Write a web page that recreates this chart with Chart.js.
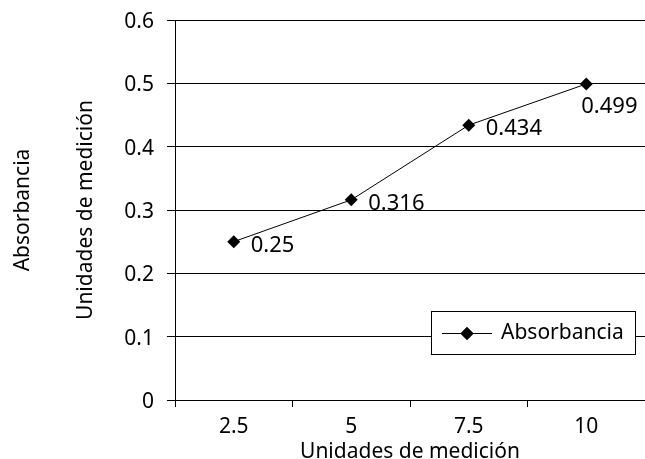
<!DOCTYPE html>
<html>
<head>
<meta charset="utf-8">
<script src="https://cdn.jsdelivr.net/npm/chart.js@4.4.0/dist/chart.umd.min.js"></script>
<style>
  html, body { margin: 0; padding: 0; background: #fff; overflow: hidden; }
  #wrap { width: 645px; height: 459px; }
</style>
</head>
<body>
<div id="wrap"><canvas id="chart"></canvas></div>
<script>
// ── data ─────────────────────────────────────────────
const categories   = ["2.5", "5", "7.5", "10"];
const absorbancia  = [0.25, 0.316, 0.434, 0.499];
const seriesLabel  = "Absorbancia";
const xTitle       = "Unidades de medición";
const yTitle       = "Unidades de medición";
const yOuterTitle  = "Absorbancia";
const yMin = 0, yMax = 0.6, yStep = 0.1;

// ── style ────────────────────────────────────────────
const FONT_FAMILY = "'Noto Sans', 'Open Sans', sans-serif";
const FONT_SIZE   = 21;
const INK         = "#000";
const font        = { family: FONT_FAMILY, size: FONT_SIZE };
const titleFont   = { family: FONT_FAMILY, size: FONT_SIZE, lineHeight: 1 };

// value labels beside each point (falls below when no room on the right)
const pointLabels = {
  id: "pointLabels",
  afterDatasetsDraw(chart) {
    const { ctx, chartArea } = chart;
    const meta = chart.getDatasetMeta(0);
    ctx.save();
    ctx.font = `22px ${FONT_FAMILY}`;
    ctx.fillStyle = INK;
    ctx.textAlign = "left";
    ctx.textBaseline = "middle";
    meta.data.forEach((pt, i) => {
      const txt = String(absorbancia[i]);
      const w = ctx.measureText(txt).width;
      let x = pt.x + 17, y = pt.y + 4;
      if (x + w > chartArea.right) { x = pt.x - 5; y = pt.y + 23; }
      ctx.fillText(txt, x, y);
    });
    ctx.restore();
  },
};

// boxed legend sitting inside the plot, bottom-right
const boxLegend = {
  id: "boxLegend",
  afterDatasetsDraw(chart) {
    const { ctx, chartArea } = chart;
    const w = 204, h = 43;
    const x = Math.round(chartArea.right - 10 - w);
    const y = Math.round(chartArea.bottom - 46 - h);
    const cy = Math.round(y + h / 2) + 0.5;
    ctx.save();
    ctx.fillStyle = "#fff";
    ctx.fillRect(x, y, w, h);
    ctx.strokeStyle = INK;
    ctx.lineWidth = 1;
    ctx.strokeRect(x + 0.5, y + 0.5, w, h);
    ctx.beginPath();
    ctx.moveTo(x + 11, cy);
    ctx.lineTo(x + 61, cy);
    ctx.stroke();
    ctx.fillStyle = INK;
    Chart.helpers.drawPoint(ctx, { pointStyle: "rectRot", radius: 6.5, borderWidth: 0 }, x + 36, cy);
    ctx.fill();
    ctx.font = `${FONT_SIZE}px ${FONT_FAMILY}`;
    ctx.textAlign = "left";
    ctx.textBaseline = "middle";
    ctx.fillText(chart.data.datasets[0].label, x + 70, cy);
    ctx.restore();
  },
};

new Chart(document.getElementById("chart"), {
  type: "line",
  data: {
    labels: categories,
    datasets: [{
      label: seriesLabel,
      data: absorbancia,
      borderColor: INK,
      borderWidth: 1,
      backgroundColor: INK,
      pointStyle: "rectRot",
      pointRadius: 6.5,
      pointBorderWidth: 0,
      pointBackgroundColor: INK,
      tension: 0,
    }],
  },
  options: {
    responsive: true,
    maintainAspectRatio: false,
    animation: false,
    layout: { autoPadding: false, padding: { top: 20, right: 0, bottom: 0, left: 0 } },
    plugins: {
      legend: { display: false },
      tooltip: { enabled: false },
    },
    scales: {
      x: {
        offset: true,
        grid:   { offset: true, drawOnChartArea: false, drawTicks: true, tickLength: 7, color: INK },
        border: { color: INK, width: 1 },
        ticks:  { color: INK, font, padding: 7, maxRotation: 0 },
        title:  { display: true, text: xTitle, color: INK, font: titleFont, padding: { top: 0, bottom: -4 } },
        afterFit(s) { s.height = 59; s.paddingLeft = 0; s.paddingRight = 0; },
      },
      y: {
        min: yMin, max: yMax,
        grid:   { color: INK, lineWidth: 1, tickLength: 8, drawTicks: true },
        border: { color: INK, width: 1 },
        ticks:  { stepSize: yStep, color: INK, font, padding: 13, labelOffset: 2 },
        title:  { display: true, text: yTitle, color: INK, font: titleFont, padding: { top: 16, bottom: 0 } },
        afterFit(s) { s.width = 115; s.paddingTop = 0; s.paddingBottom = 0; },
      },
      y2: {
        type: "linear",
        position: "left",
        weight: 1,
        grid:   { display: false },
        border: { display: false },
        ticks:  { display: false },
        title:  { display: true, text: yOuterTitle, color: INK, font: titleFont, padding: { top: 13, bottom: 0 } },
        afterFit(s) { s.width = 60; s.paddingTop = 0; s.paddingBottom = 0; },
      },
    },
  },
  plugins: [pointLabels, boxLegend],
});
</script>
</body>
</html>
